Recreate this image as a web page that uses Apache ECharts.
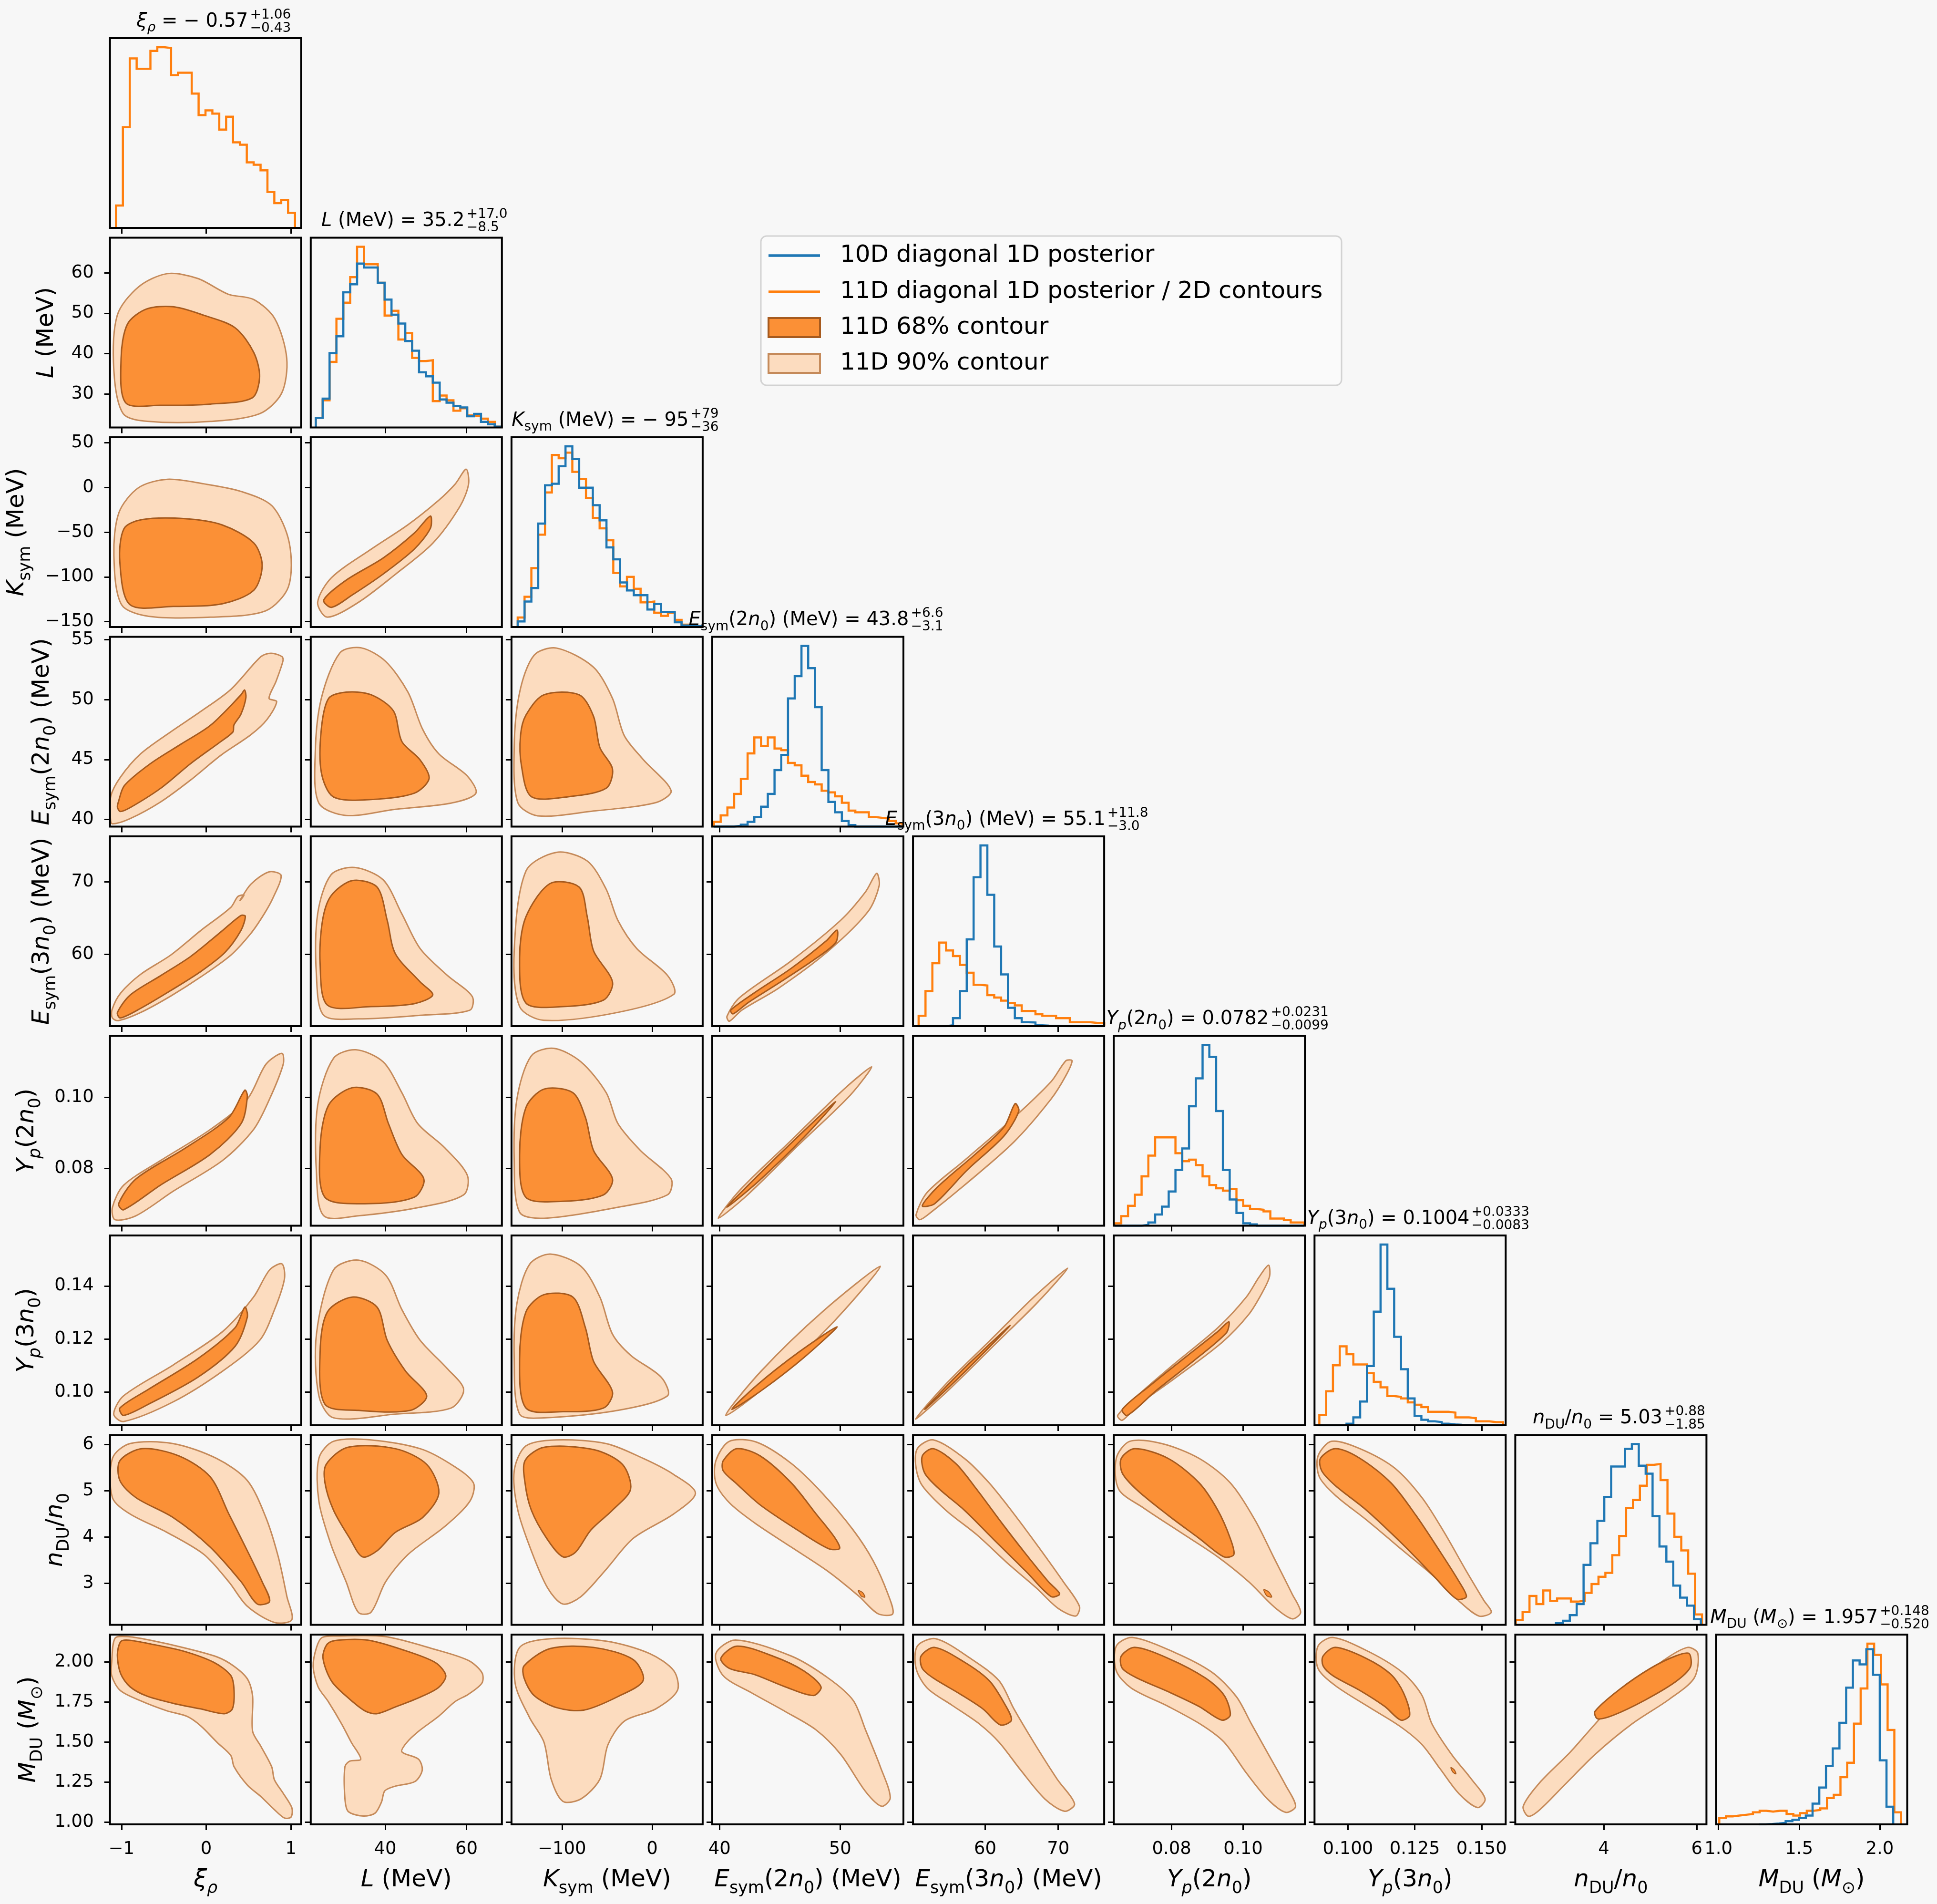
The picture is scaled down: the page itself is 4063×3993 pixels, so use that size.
<!DOCTYPE html>
<html><head><meta charset="utf-8">
<script src="https://cdn.jsdelivr.net/npm/echarts@6/dist/echarts.min.js"></script>
<style>html,body{margin:0;padding:0;background:#f7f7f7;}#c{width:4063px;height:3993px;}</style>
</head><body><div id="c"></div>
<script>
// ---------------- data ----------------
const axisMin = [-1.136, 21.7, -156, 39.4, 50.1, 0.0638, 0.0875, 2.10, 0.985];
const axisMax = [1.12, 68.7, 56, 55.24, 76.3, 0.1173, 0.159, 6.205, 2.17];
const xTickValues = [[-1,0,1],[40,60],[-100,0],[40,50],[60,70],[0.08,0.10],[0.100,0.125,0.150],[4,6],[1.0,1.5,2.0]];
const xTickLabels = [['−1','0','1'],['40','60'],['−100','0'],['40','50'],['60','70'],['0.08','0.10'],['0.100','0.125','0.150'],['4','6'],['1.0','1.5','2.0']];
const yTickValues = [[],[30,40,50,60],[-150,-100,-50,0,50],[40,45,50,55],[60,70],[0.08,0.10],[0.10,0.12,0.14],[3,4,5,6],[1.00,1.25,1.50,1.75,2.00]];
const yTickLabels = [[],['30','40','50','60'],['−150','−100','−50','0','50'],['40','45','50','55'],['60','70'],['0.08','0.10'],['0.10','0.12','0.14'],['3','4','5','6'],['1.00','1.25','1.50','1.75','2.00']];

// histograms (11D = orange, 10D = blue)
const hist11_xi = [140,630,1060,995,995,1107,1130,1125,955,970,970,840,705,735,715,615,695,535,520,410,395,360,225,155,175,95];
const range11_xi = [-1.065, 1.047];
const hist10_L = [60,180,465,570,845,895,1025,1000,1000,905,800,705,650,540,480,345,320,280,175,155,135,125,70,85,35,20,5];
const hist11_L = [60,170,410,680,780,940,1130,1020,1020,905,700,730,550,590,435,415,420,165,200,170,105,120,75,70,55,35,5];
const range_L = [22.94, 68.63];
const hist10_K = [35,160,245,650,890,900,1010,1135,1055,875,875,765,670,500,425,280,230,200,200,110,145,95,95,30,10,5,5];
const hist11_K = [60,190,370,580,845,1080,1060,1095,975,930,810,685,620,545,340,255,315,240,155,160,90,70,90,45,15,10,5];
const range_K = [-149.1, 55.3];
const hist10_E2 = [0,0,0,5,12,30,60,125,205,355,450,805,945,1135,995,750,355,155,90,35,10,0,0,0,0,0,0,0];
const hist11_E2 = [30,70,120,205,300,460,560,505,560,490,480,400,385,320,280,265,225,215,190,150,100,90,90,60,55,50,35,20];
const range_E2 = [39.54, 55.16];
const hist10_E3 = [0,0,0,0,5,50,220,545,935,1135,825,500,325,115,50,25,23,5,3,2,1,0,0,0,0,0,0];
const hist11_E3 = [65,220,395,525,475,440,385,335,260,255,195,180,160,145,130,95,95,75,65,65,50,50,25,25,25,20,20];
const range_E3 = [50.87, 76.3];
const hist10_Y2 = [0,0,0,0,5,20,70,120,215,350,485,750,925,1135,1060,720,350,165,80,15,8,0,0,0,0,0,0,0];
const hist11_Y2 = [15,60,125,195,310,440,555,555,555,455,405,415,380,310,255,235,220,230,160,125,105,100,90,45,45,35,20,20];
const range_Y2 = [0.064, 0.1171];
const hist10_Y3 = [0,0,0,0,10,50,150,375,720,1145,865,560,355,170,60,35,25,20,10,5,3,2,0,0,0,0,0];
const hist11_Y3 = [65,215,380,500,450,385,385,330,275,240,185,180,170,145,130,115,85,85,85,80,50,50,45,25,25,20,20];
const range_Y3 = [0.0893, 0.158];
const hist10_n = [10,25,60,130,375,510,650,800,990,990,1100,1130,995,945,680,490,395,245,170,120,35];
const range10_n = [2.974, 6.085];
const hist11_n = [30,80,180,130,215,150,165,165,145,150,200,255,300,325,435,555,730,780,870,1000,1005,905,695,550,465,320,65];
const range11_n = [2.109, 6.109];
const hist10_M = [0,2,5,10,20,28,40,55,130,230,365,475,635,855,1025,1000,1095,935,400,110];
const range10_M = [1.25, 2.0833];
const hist11_M = [40,50,55,60,65,75,85,80,85,85,65,55,70,85,90,100,165,185,295,385,630,850,1130,1060,875,590,75];
const range11_M = [1.005, 2.132];

// 2D contours (90% outer, 68% inner), [x, y] in data units; name = row_col
const c90_1_0 = [[-1.09,35.7],[-1.05,49.5],[-0.80,56.5],[-0.46,59.8],[-0.10,58.6],[0.26,54.7],[0.56,53.4],[0.81,48.6],[0.95,38.8],[0.89,30.2],[0.63,25.1],[0.05,23.2],[-0.68,23.2],[-0.98,25.1]];
const c68_1_0 = [[-1.005,38.8],[-0.93,47.3],[-0.71,51.0],[-0.39,51.6],[-0.03,49.5],[0.34,46.4],[0.56,40.3],[0.63,34.2],[0.54,29.0],[0.05,27.5],[-0.54,27.2],[-0.95,27.8]];
const c90_2_0 = [[-1.09,-76],[-1.03,-28],[-0.80,-0.4],[-0.46,9],[-0.03,4],[0.41,-4.5],[0.78,-21],[0.98,-62],[0.97,-111],[0.70,-138],[0.05,-145],[-0.68,-144],[-1.00,-131]];
const c68_2_0 = [[-1.02,-83],[-0.97,-46],[-0.76,-36],[-0.25,-35],[0.19,-42],[0.56,-62],[0.66,-87],[0.56,-115],[0.19,-130],[-0.39,-133],[-0.90,-131]];
const c90_3_0 = [[-1.127,41.92],[-1.013,43.52],[-0.775,45.47],[-0.421,47.30],[-0.065,49.01],[0.290,50.85],[0.646,53.59],[0.764,53.87],[0.894,53.59],[0.906,53.25],[0.824,51.53],[0.741,50.11],[0.831,49.82],[0.716,48.33],[0.527,47.07],[0.172,45.35],[-0.184,43.29],[-0.538,41.46],[-0.894,40.08],[-1.108,39.63],[-1.131,40.08]];
const c68_3_0 = [[-1.037,41.46],[-0.965,42.83],[-0.658,44.66],[-0.301,46.27],[0.053,47.87],[0.409,50.39],[0.452,50.80],[0.468,50.16],[0.409,48.78],[0.326,47.87],[0.315,47.30],[0.172,46.50],[-0.184,44.66],[-0.538,42.60],[-0.894,41.00],[-1.013,40.66],[-1.048,41.00]];
const c90_4_0 = [[-1.112,52.36],[-1.013,54.63],[-0.775,57.25],[-0.421,59.90],[-0.065,63.30],[0.290,66.50],[0.373,68.00],[0.445,68.20],[0.398,67.45],[0.527,69.70],[0.741,71.40],[0.883,70.90],[0.788,67.81],[0.682,65.56],[0.527,62.91],[0.290,59.90],[-0.065,56.89],[-0.421,54.24],[-0.775,51.98],[-1.037,50.86],[-1.108,51.23]];
const c68_4_0 = [[-1.048,51.98],[-0.894,54.43],[-0.538,57.07],[-0.184,59.72],[0.172,63.10],[0.409,65.37],[0.461,65.26],[0.409,63.30],[0.220,60.27],[-0.065,57.64],[-0.421,55.00],[-0.775,52.55],[-1.013,51.23]];
const c90_5_0 = [[-1.107,0.0690],[-0.975,0.0752],[-0.537,0.0822],[0.047,0.0909],[0.485,0.0995],[0.704,0.1093],[0.893,0.1124],[0.908,0.1093],[0.747,0.0995],[0.558,0.0909],[0.193,0.0822],[-0.391,0.0735],[-0.829,0.0666],[-1.078,0.0655]];
const c68_5_0 = [[-1.034,0.0700],[-0.829,0.0770],[-0.245,0.0857],[0.266,0.0943],[0.455,0.1020],[0.485,0.1002],[0.412,0.0926],[0.047,0.0839],[-0.537,0.0753],[-0.975,0.0683]];
const c90_6_0 = [[-1.092,0.0917],[-0.975,0.0986],[-0.391,0.1102],[0.193,0.1228],[0.558,0.1358],[0.747,0.1460],[0.893,0.1483],[0.923,0.1427],[0.806,0.1311],[0.631,0.1195],[0.193,0.1079],[-0.391,0.0963],[-0.975,0.0889]];
const c68_6_0 = [[-1.019,0.0940],[-0.683,0.1010],[-0.099,0.1126],[0.339,0.1242],[0.455,0.1320],[0.485,0.1283],[0.339,0.1172],[-0.099,0.1056],[-0.683,0.0954],[-0.975,0.0912]];
const c90_7_0 = [[-1.107,5.70],[-0.902,6.02],[-0.391,6.02],[0.120,5.70],[0.485,5.22],[0.704,4.42],[0.850,3.57],[0.952,2.71],[1.010,2.21],[0.806,2.15],[0.485,2.50],[0.266,3.03],[-0.026,3.62],[-0.464,4.10],[-0.902,4.50],[-1.107,4.85]];
const c68_7_0 = [[-1.019,5.65],[-0.756,5.91],[-0.318,5.75],[0.047,5.30],[0.266,4.50],[0.485,3.70],[0.660,3.03],[0.748,2.61],[0.602,2.55],[0.412,3.03],[0.047,3.78],[-0.391,4.42],[-0.829,4.85],[-1.019,5.22]];
const c90_8_0 = [[-1.116,1.996],[-1.077,2.147],[-0.938,2.158],[-0.661,2.135],[-0.265,2.088],[0.130,2.030],[0.328,1.972],[0.487,1.892],[0.547,1.786],[0.547,1.566],[0.644,1.473],[0.772,1.345],[0.804,1.264],[0.903,1.183],[1.010,1.089],[1.001,1.031],[0.922,1.025],[0.804,1.077],[0.644,1.159],[0.487,1.229],[0.328,1.345],[0.290,1.415],[0.130,1.496],[-0.067,1.601],[-0.225,1.659],[-0.464,1.694],[-0.780,1.758],[-1.017,1.822],[-1.116,1.914]];
const c68_8_0 = [[-1.049,2.042],[-1.010,2.126],[-0.919,2.135],[-0.661,2.112],[-0.265,2.066],[0.091,1.996],[0.290,1.914],[0.328,1.822],[0.308,1.706],[0.209,1.676],[-0.067,1.706],[-0.384,1.740],[-0.701,1.786],[-0.899,1.844],[-1.010,1.926]];
const c90_2_1 = [[23.4,-128.5],[26.8,-100.9],[36.5,-69.2],[45.6,-41.7],[53.2,-14.2],[57.2,3.7],[59.9,20.3],[60.5,3.7],[58.4,-21.1],[51.7,-62.4],[42.6,-96.8],[33.4,-128.5],[25.8,-145.0]];
const c68_2_1 = [[24.9,-125.7],[30.4,-103.7],[39.5,-78.9],[47.1,-51.3],[51.1,-32.1],[51.1,-45.8],[47.1,-69.2],[39.5,-96.8],[31.9,-120.2],[26.8,-134.0]];
const c90_3_1 = [[28.9,53.91],[34.1,54.32],[40.1,53.19],[45.6,50.62],[49.2,47.53],[53.2,45.47],[60.2,43.62],[62.3,42.18],[56.2,41.36],[42.5,40.84],[30.4,40.33],[23.7,41.36],[22.8,45.47],[24.3,50.10]];
const c68_3_1 = [[26.1,50.10],[30.4,50.62],[36.5,50.41],[42.0,49.07],[44.1,46.50],[48.6,44.96],[50.8,43.41],[47.1,42.18],[36.5,41.66],[27.3,41.87],[24.3,43.93],[24.3,47.53]];
const c90_4_1 = [[26.7,71.0],[32.5,72.0],[39.5,70.3],[44.1,65.6],[48.6,60.8],[55.3,57.1],[61.4,54.2],[60.8,52.3],[48.6,51.6],[33.4,51.1],[24.9,51.6],[23.1,57.1],[23.4,65.6]];
const c68_4_1 = [[26.7,68.1],[31.9,70.2],[38.0,69.3],[40.5,64.7],[42.5,60.1],[48.6,56.2],[51.7,54.4],[47.1,53.2],[36.5,52.8],[25.8,53.0],[24.0,58.8],[24.6,64.7]];
const c90_5_1 = [[27.3,0.1110],[32.8,0.1134],[39.5,0.1100],[44.1,0.1013],[48.0,0.0926],[54.7,0.0857],[60.2,0.0780],[59.3,0.0725],[48.6,0.0690],[33.4,0.0666],[24.9,0.0666],[23.1,0.0787],[23.4,0.0978]];
const c68_5_1 = [[26.1,0.0978],[31.9,0.1027],[38.0,0.1009],[40.8,0.0926],[44.1,0.0839],[49.5,0.0770],[47.1,0.0718],[35.0,0.0700],[25.2,0.0718],[24.0,0.0857]];
const c90_6_1 = [[27.3,0.1460],[33.4,0.1497],[40.1,0.1441],[44.1,0.1311],[48.6,0.1195],[55.3,0.1088],[59.3,0.1010],[56.2,0.0940],[42.5,0.0917],[27.3,0.0903],[23.7,0.0986],[23.1,0.1218]];
const c68_6_1 = [[25.8,0.1302],[31.9,0.1358],[38.0,0.1320],[40.5,0.1195],[45.0,0.1079],[50.2,0.0986],[46.2,0.0931],[33.4,0.0931],[25.2,0.0954],[24.0,0.1149]];
const c90_7_1 = [[23.7,5.70],[27.3,6.07],[36.5,6.10],[48.6,5.91],[56.2,5.57],[61.7,5.17],[60.8,4.77],[54.7,4.23],[45.6,3.62],[40.1,3.03],[36.5,2.37],[33.4,2.37],[30.4,3.03],[26.7,3.83],[23.7,4.77]];
const c68_7_1 = [[25.5,5.57],[30.8,5.94],[42.5,5.91],[50.2,5.57],[53.2,4.95],[49.2,4.42],[42.5,4.10],[38.0,3.70],[34.4,3.57],[31.3,3.97],[27.3,4.58],[25.2,5.17]];
const c90_8_1 = [[22.3,1.972],[23.1,2.088],[24.5,2.152],[28.4,2.161],[39.9,2.158],[52.3,2.077],[60.5,2.008],[63.8,1.932],[63.8,1.868],[60.5,1.798],[57.2,1.752],[53.1,1.659],[48.2,1.566],[45.3,1.496],[44.1,1.438],[48.2,1.392],[49.1,1.322],[47.3,1.252],[42.4,1.223],[39.9,1.194],[39.1,1.125],[37.5,1.055],[34.6,1.037],[30.9,1.066],[30.1,1.147],[30.1,1.345],[31.3,1.380],[34.0,1.392],[31.7,1.496],[29.3,1.612],[26.0,1.752],[23.5,1.844]];
const c68_8_1 = [[24.7,2.025],[25.8,2.112],[28.4,2.135],[35.8,2.135],[44.1,2.077],[52.3,1.996],[54.9,1.914],[53.1,1.839],[48.2,1.775],[42.4,1.717],[37.9,1.676],[35.0,1.694],[30.9,1.775],[26.8,1.880]];
const c90_3_2 = [[-131,53.7],[-106,54.3],[-65,52.7],[-44,50.1],[-31,47.0],[-10,45.0],[21,42.4],[4,41.4],[-65,40.7],[-127,40.3],[-149,41.4],[-153,46.0],[-147,50.6]];
const c68_3_2 = [[-140,48.7],[-120,50.4],[-81,50.4],[-65,48.6],[-58,46.0],[-44,44.2],[-51,42.6],[-92,41.9],[-134,41.9],[-145,44.5],[-146,47.0]];
const c90_4_2 = [[-140,71.5],[-106,74.1],[-72,72.9],[-51,69.0],[-38,64.7],[-17,60.8],[17,57.1],[24,54.5],[-38,52.0],[-120,50.9],[-147,52.8],[-153,60.5]];
const c68_4_2 = [[-140,65.2],[-113,69.8],[-81,69.3],[-72,65.2],[-65,60.5],[-44,56.2],[-54,53.7],[-99,52.8],[-140,53.3],[-147,59.6]];
const c90_5_2 = [[-134,0.1117],[-109,0.1138],[-79,0.1100],[-51,0.1013],[-38,0.0926],[-13,0.0850],[21,0.0770],[17,0.0725],[-38,0.0690],[-120,0.0659],[-147,0.0676],[-153,0.0822],[-150,0.0995]];
const c68_5_2 = [[-140,0.0971],[-120,0.1023],[-88,0.1013],[-74,0.0943],[-65,0.0850],[-44,0.0770],[-54,0.0725],[-99,0.0707],[-140,0.0718],[-147,0.0839]];
const c90_6_2 = [[-136,0.1481],[-113,0.1520],[-79,0.1474],[-58,0.1358],[-44,0.1218],[-24,0.1139],[10,0.1056],[17,0.0986],[-38,0.0931],[-120,0.0903],[-147,0.0917],[-153,0.1126],[-150,0.1334]];
const c68_6_2 = [[-140,0.1302],[-120,0.1367],[-88,0.1358],[-74,0.1242],[-65,0.1116],[-44,0.1000],[-54,0.0940],[-99,0.0926],[-140,0.0940],[-147,0.1126]];
const c90_7_2 = [[-140,5.97],[-106,6.10],[-51,6.02],[-10,5.70],[24,5.35],[48,4.95],[24,4.50],[-21,3.97],[-51,3.30],[-79,2.71],[-99,2.55],[-116,2.90],[-134,3.70],[-149,4.58],[-153,5.43]];
const c68_7_2 = [[-141,5.65],[-120,5.94],[-65,5.89],[-33,5.57],[-24,5.03],[-44,4.58],[-68,4.15],[-85,3.67],[-99,3.57],[-117,3.97],[-134,4.58],[-141,5.17]];
const c90_8_2 = [[-147,2.090],[-113,2.144],[-51,2.129],[-3,2.052],[24,1.944],[28,1.821],[4,1.706],[-31,1.629],[-49,1.483],[-58,1.267],[-79,1.144],[-99,1.129],[-112,1.267],[-120,1.498],[-136,1.652],[-152,1.867]];
const c68_8_2 = [[-142,1.975],[-113,2.083],[-65,2.090],[-21,2.014],[-10,1.883],[-38,1.783],[-76,1.698],[-106,1.714],[-131,1.790],[-142,1.898]];
const c90_4_3 = [[40.62,51.46],[41.64,54.01],[45.95,59.12],[50.05,64.73],[52.10,68.64],[53.02,71.19],[53.23,69.49],[52.31,65.92],[49.02,60.48],[44.92,55.37],[41.85,52.31],[40.82,50.78]];
const c68_4_3 = [[40.93,52.31],[42.88,54.69],[45.95,58.09],[48.82,61.84],[49.74,63.37],[49.64,61.67],[48.00,59.46],[44.92,56.05],[42.36,53.33],[41.13,51.80]];
const c90_5_3 = [[39.90,0.0659],[41.71,0.0739],[46.01,0.0881],[50.32,0.1023],[52.61,0.1086],[50.81,0.1005],[46.50,0.0864],[42.20,0.0721]];
const c68_5_3 = [[40.62,0.0690],[43.05,0.0775],[46.74,0.0897],[49.64,0.0988],[47.01,0.0888],[43.32,0.0766]];
const c90_6_3 = [[40.52,0.0912],[43.47,0.1080],[48.59,0.1305],[53.33,0.1474],[49.46,0.1265],[44.33,0.1040]];
const c68_6_3 = [[41.03,0.0935],[43.17,0.1029],[46.55,0.1150],[49.74,0.1246],[46.99,0.1130],[43.60,0.1010]];
const c90_7_3 = [[39.70,5.65],[40.82,6.07],[43.08,6.05],[45.95,5.59],[48.51,4.95],[51.08,4.15],[52.72,3.49],[53.95,2.77],[54.36,2.34],[53.13,2.34],[51.59,2.71],[49.02,3.25],[45.95,3.78],[42.88,4.31],[40.82,4.74],[39.70,5.17]];
const c68_7_3 = [[40.31,5.65],[41.44,5.91],[43.39,5.75],[45.95,5.17],[48.00,4.50],[49.54,3.99],[49.95,3.75],[49.02,3.75],[46.46,4.15],[43.39,4.69],[41.34,5.17],[40.31,5.43]];
const c90_8_3 = [[39.70,2.052],[41.34,2.136],[45.95,2.036],[49.02,1.898],[51.08,1.759],[52.10,1.575],[53.33,1.344],[54.15,1.152],[53.43,1.098],[52.10,1.190],[50.05,1.421],[48.00,1.575],[45.44,1.690],[42.67,1.806],[40.31,1.913]];
const c68_8_3 = [[40.11,2.021],[41.44,2.098],[44.41,2.036],[46.98,1.944],[48.41,1.844],[47.79,1.790],[45.44,1.844],[42.88,1.921],[40.82,1.959]];
const c90_5_4 = [[50.52,0.0669],[52.05,0.0732],[57.14,0.0822],[63.93,0.0943],[69.02,0.1044],[71.05,0.1103],[71.90,0.1103],[71.05,0.1061],[69.02,0.0995],[63.93,0.0874],[57.14,0.0752],[52.39,0.0673],[51.03,0.0655]];
const c68_5_4 = [[51.37,0.0694],[53.41,0.0746],[58.83,0.0843],[62.57,0.0916],[64.09,0.0982],[64.60,0.0961],[62.57,0.0891],[57.48,0.0794],[53.07,0.0700]];
const c90_6_4 = [[50.44,0.0898],[54.46,0.1026],[60.56,0.1192],[66.67,0.1358],[71.30,0.1467],[67.28,0.1341],[61.17,0.1175],[55.07,0.1010]];
const c68_6_4 = [[51.71,0.0935],[56.66,0.1077],[63.41,0.1251],[56.93,0.1069]];
const c90_7_4 = [[50.69,5.91],[52.90,6.10],[57.14,5.70],[60.53,5.17],[63.93,4.50],[67.32,3.78],[70.71,3.03],[72.91,2.50],[72.40,2.29],[70.03,2.45],[66.98,2.90],[63.08,3.43],[58.83,4.05],[54.59,4.58],[51.37,5.11],[50.52,5.49]];
const c68_7_4 = [[51.37,5.75],[52.90,5.91],[55.95,5.59],[58.83,5.03],[62.23,4.31],[65.62,3.62],[68.67,3.03],[70.20,2.77],[69.02,2.71],[65.62,3.25],[61.38,3.91],[57.14,4.58],[53.75,5.03],[51.71,5.38]];
const c90_8_4 = [[50.69,2.098],[53.24,2.144],[57.99,2.021],[61.89,1.882],[63.93,1.706],[66.64,1.498],[69.86,1.267],[72.24,1.113],[70.88,1.067],[68.16,1.144],[64.77,1.329],[61.89,1.498],[59.17,1.613],[55.44,1.729],[52.05,1.836],[50.52,1.959]];
const c68_8_4 = [[51.20,2.036],[53.07,2.090],[57.14,1.998],[60.53,1.883],[62.57,1.744],[63.59,1.636],[62.06,1.606],[59.68,1.706],[56.29,1.806],[52.90,1.898],[51.37,1.959]];
const c90_6_5 = [[0.0649,0.0912],[0.0704,0.0986],[0.0808,0.1107],[0.0929,0.1242],[0.1009,0.1358],[0.1044,0.1432],[0.1071,0.1478],[0.1074,0.1436],[0.1054,0.1376],[0.1016,0.1293],[0.0940,0.1186],[0.0808,0.1051],[0.0704,0.0949],[0.0662,0.0894]];
const c68_6_5 = [[0.0662,0.0935],[0.0739,0.1024],[0.0842,0.1135],[0.0929,0.1228],[0.0960,0.1265],[0.0953,0.1223],[0.0860,0.1116],[0.0756,0.1005],[0.0676,0.0912]];
const c90_7_5 = [[0.0645,5.70],[0.0683,6.07],[0.0773,6.02],[0.0877,5.70],[0.0964,5.17],[0.1033,4.37],[0.1085,3.57],[0.1137,2.77],[0.1161,2.37],[0.1137,2.23],[0.1085,2.50],[0.1016,3.03],[0.0929,3.57],[0.0825,4.10],[0.0721,4.63],[0.0652,5.03]];
const c68_7_5 = [[0.0659,5.70],[0.0697,5.91],[0.0790,5.70],[0.0877,5.17],[0.0929,4.58],[0.0964,3.97],[0.0974,3.62],[0.0946,3.57],[0.0877,3.97],[0.0790,4.47],[0.0704,5.01],[0.0662,5.38]];
const c90_8_5 = [[0.0645,2.098],[0.0690,2.152],[0.0808,2.059],[0.0912,1.936],[0.0981,1.783],[0.1023,1.613],[0.1071,1.421],[0.1119,1.229],[0.1147,1.098],[0.1119,1.060],[0.1068,1.144],[0.1009,1.306],[0.0947,1.498],[0.0884,1.606],[0.0791,1.721],[0.0687,1.836],[0.0645,1.944]];
const c68_8_5 = [[0.0659,2.036],[0.0697,2.090],[0.0791,2.021],[0.0895,1.898],[0.0947,1.790],[0.0964,1.667],[0.0940,1.636],[0.0877,1.721],[0.0791,1.813],[0.0704,1.898],[0.0662,1.959]];
const c90_7_6 = [[0.0888,5.75],[0.0939,6.07],[0.1045,5.91],[0.1175,5.49],[0.1277,4.85],[0.1360,4.10],[0.1439,3.30],[0.1508,2.63],[0.1536,2.37],[0.1490,2.29],[0.1416,2.61],[0.1323,3.14],[0.1207,3.70],[0.1069,4.37],[0.0953,4.90],[0.0893,5.30]];
const c68_7_6 = [[0.0897,5.70],[0.0953,5.91],[0.1045,5.70],[0.1161,5.17],[0.1254,4.47],[0.1346,3.67],[0.1416,3.03],[0.1443,2.71],[0.1406,2.66],[0.1323,3.14],[0.1207,3.83],[0.1069,4.58],[0.0953,5.11],[0.0902,5.43]];
const c90_8_6 = [[0.0888,2.098],[0.0944,2.152],[0.1083,2.059],[0.1208,1.928],[0.1277,1.790],[0.1314,1.613],[0.1388,1.421],[0.1462,1.267],[0.1513,1.144],[0.1485,1.090],[0.1416,1.175],[0.1346,1.329],[0.1277,1.483],[0.1194,1.598],[0.1083,1.713],[0.0953,1.851],[0.0888,1.959]];
const c68_8_6 = [[0.0907,2.036],[0.0953,2.090],[0.1069,2.021],[0.1161,1.921],[0.1208,1.806],[0.1231,1.667],[0.1198,1.636],[0.1138,1.721],[0.1045,1.821],[0.0944,1.913],[0.0907,1.975]];
const c90_8_7 = [[2.27,1.098],[2.62,1.244],[3.28,1.436],[3.94,1.652],[4.61,1.844],[5.27,2.006],[5.80,2.090],[6.02,2.052],[5.94,1.898],[5.41,1.767],[4.61,1.613],[3.81,1.421],[3.15,1.229],[2.62,1.075],[2.38,1.036]];
const c68_8_7 = [[3.81,1.690],[4.34,1.828],[5.00,1.959],[5.54,2.036],[5.83,2.052],[5.86,1.967],[5.54,1.875],[4.88,1.760],[4.21,1.667],[3.87,1.644]];
// small detached 68% islands
const island_7_3 = [[51.50,2.84],[51.85,2.80],[52.05,2.70],[51.75,2.72]];
const island_7_5 = [[0.1058,2.86],[0.1072,2.81],[0.1080,2.70],[0.1066,2.73]];
const island_8_6 = [[0.1385,1.340],[0.1398,1.325],[0.1404,1.300],[0.1392,1.312]];

// texts
const titleMain = [
  [['ξ','i'],['ρ','si'],[' = − 0.57','r']],
  [['L','i'],[' (MeV) = 35.2','r']],
  [['K','i'],['sym','s'],[' (MeV) = − 95','r']],
  [['E','i'],['sym','s'],['(2','r'],['n','i'],['0','s'],[') (MeV) = 43.8','r']],
  [['E','i'],['sym','s'],['(3','r'],['n','i'],['0','s'],[') (MeV) = 55.1','r']],
  [['Y','i'],['p','si'],['(2','r'],['n','i'],['0','s'],[') = 0.0782','r']],
  [['Y','i'],['p','si'],['(3','r'],['n','i'],['0','s'],[') = 0.1004','r']],
  [['n','i'],['DU','s'],['/','r'],['n','i'],['0','s'],[' = 5.03','r']],
  [['M','i'],['DU','s'],[' (','r'],['M','i'],['⊙','s'],[') = 1.957','r']]
];
const titleSup = ['+1.06','+17.0','+79','+6.6','+11.8','+0.0231','+0.0333','+0.88','+0.148'];
const titleSub = ['−0.43','−8.5','−36','−3.1','−3.0','−0.0099','−0.0083','−1.85','−0.520'];
const axisNames = [
  [['ξ','i'],['ρ','si']],
  [['L','i'],[' (MeV)','r']],
  [['K','i'],['sym','s'],[' (MeV)','r']],
  [['E','i'],['sym','s'],['(2','r'],['n','i'],['0','s'],[') (MeV)','r']],
  [['E','i'],['sym','s'],['(3','r'],['n','i'],['0','s'],[') (MeV)','r']],
  [['Y','i'],['p','si'],['(2','r'],['n','i'],['0','s'],[')','r']],
  [['Y','i'],['p','si'],['(3','r'],['n','i'],['0','s'],[')','r']],
  [['n','i'],['DU','s'],['/','r'],['n','i'],['0','s']],
  [['M','i'],['DU','s'],[' (','r'],['M','i'],['⊙','s'],[')','r']]
];
const legendLabels = ['10D diagonal 1D posterior','11D diagonal 1D posterior / 2D contours','11D 68% contour','11D 90% contour'];

// ---------------- layout / style ----------------
const LEFT0 = 230.7, STEPX = 421.1, PW = 401, TOP0 = 80, STEPY = 418.5, PH = 398;
const FONT = 'DejaVu Sans';
const ORANGE = '#ff7f0e', BLUE = '#1f77b4';
const FILL68 = '#fb9036', EDGE68 = '#a65a1e', FILL90 = '#fcdcbf', EDGE90 = '#c58a5a';
const yNameX = [0, 98, 36, 89, 89, 57, 57, 117, 61];

const mctx = document.createElement('canvas').getContext('2d');
function isSub(s) { return s === 's' || s === 'si'; }
function segsWidth(segs, F) {
  let w = 0;
  for (const [t, s] of segs) {
    const size = isSub(s) ? Math.round(F * 0.7) : F;
    const it = (s === 'i' || s === 'si');
    mctx.font = (it ? 'italic ' : '') + size + 'px "' + FONT + '"';
    w += mctx.measureText(t).width;
  }
  return w;
}
function richStyles(F) {
  const S = Math.round(F * 0.7), pad = Math.round(F * 0.71);
  return {
    r: { fontFamily: FONT, fontSize: F, fill: '#000' },
    i: { fontFamily: FONT, fontSize: F, fontStyle: 'italic', fill: '#000' },
    s: { fontFamily: FONT, fontSize: S, fill: '#000', padding: [pad, 0, 0, 0] },
    si: { fontFamily: FONT, fontSize: S, fontStyle: 'italic', fill: '#000', padding: [pad, 0, 0, 0] }
  };
}
function richStr(segs) { return segs.map(([t, s]) => '{' + s + '|' + t + '}').join(''); }
function fmt(vals, labs) {
  return function (v) {
    for (let i = 0; i < vals.length; i++) if (Math.abs(vals[i] - v) < 1e-7) return labs[i];
    return '';
  };
}
function stepPoints(range, counts) {
  const n = counts.length, w = (range[1] - range[0]) / n;
  const pts = [[range[0], 0]];
  for (let i = 0; i < n; i++) { pts.push([range[0] + i * w, counts[i]]); pts.push([range[0] + (i + 1) * w, counts[i]]); }
  pts.push([range[1], 0]);
  return pts;
}

const diagHists = [
  [[range11_xi, hist11_xi, ORANGE]],
  [[range_L, hist11_L, ORANGE], [range_L, hist10_L, BLUE]],
  [[range_K, hist11_K, ORANGE], [range_K, hist10_K, BLUE]],
  [[range_E2, hist11_E2, ORANGE], [range_E2, hist10_E2, BLUE]],
  [[range_E3, hist11_E3, ORANGE], [range_E3, hist10_E3, BLUE]],
  [[range_Y2, hist11_Y2, ORANGE], [range_Y2, hist10_Y2, BLUE]],
  [[range_Y3, hist11_Y3, ORANGE], [range_Y3, hist10_Y3, BLUE]],
  [[range11_n, hist11_n, ORANGE], [range10_n, hist10_n, BLUE]],
  [[range11_M, hist11_M, ORANGE], [range10_M, hist10_M, BLUE]]
];
const contourPanels = [
  [1,0,c90_1_0,c68_1_0],[2,0,c90_2_0,c68_2_0],[3,0,c90_3_0,c68_3_0],[4,0,c90_4_0,c68_4_0],
  [5,0,c90_5_0,c68_5_0],[6,0,c90_6_0,c68_6_0],[7,0,c90_7_0,c68_7_0],[8,0,c90_8_0,c68_8_0],
  [2,1,c90_2_1,c68_2_1],[3,1,c90_3_1,c68_3_1],[4,1,c90_4_1,c68_4_1],[5,1,c90_5_1,c68_5_1],
  [6,1,c90_6_1,c68_6_1],[7,1,c90_7_1,c68_7_1],[8,1,c90_8_1,c68_8_1],
  [3,2,c90_3_2,c68_3_2],[4,2,c90_4_2,c68_4_2],[5,2,c90_5_2,c68_5_2],[6,2,c90_6_2,c68_6_2],
  [7,2,c90_7_2,c68_7_2],[8,2,c90_8_2,c68_8_2],
  [4,3,c90_4_3,c68_4_3],[5,3,c90_5_3,c68_5_3],[6,3,c90_6_3,c68_6_3],[7,3,c90_7_3,c68_7_3],[8,3,c90_8_3,c68_8_3],
  [5,4,c90_5_4,c68_5_4],[6,4,c90_6_4,c68_6_4],[7,4,c90_7_4,c68_7_4],[8,4,c90_8_4,c68_8_4],
  [6,5,c90_6_5,c68_6_5],[7,5,c90_7_5,c68_7_5],[8,5,c90_8_5,c68_8_5],
  [7,6,c90_7_6,c68_7_6],[8,6,c90_8_6,c68_8_6],
  [8,7,c90_8_7,c68_8_7]
];
const islandPanels = [[7,3,island_7_3],[7,5,island_7_5],[8,6,island_8_6]];

// ---------------- build ----------------
const grids = [], xAxes = [], yAxes = [], series = [], graphics = [];
const gIndex = {};
const tickStyle = { color: '#000', width: 3 };
for (let r = 0; r < 9; r++) {
  for (let c = 0; c <= r; c++) {
    const gi = grids.length; gIndex[r + '_' + c] = gi;
    const left = LEFT0 + c * STEPX, top = TOP0 + r * STEPY;
    grids.push({ left: left, top: top, width: PW, height: PH, containLabel: false, outerBoundsMode: 'none', show: false });
    xAxes.push({
      type: 'value', gridIndex: gi, min: axisMin[c], max: axisMax[c],
      axisLine: { show: false, onZero: false }, splitLine: { show: false },
      axisTick: { show: true, customValues: xTickValues[c], length: 12, inside: false, lineStyle: tickStyle },
      axisLabel: { show: r === 8, customValues: xTickValues[c], formatter: fmt(xTickValues[c], xTickLabels[c]),
        fontSize: 37, fontFamily: FONT, color: '#000', margin: 32, lineHeight: 40 }
    });
    if (r === c) {
      let mx = 0;
      diagHists[c].forEach(h => { mx = Math.max(mx, Math.max.apply(null, h[1])); });
      yAxes.push({ type: 'value', gridIndex: gi, min: 0, max: mx * 1.05,
        axisLine: { show: false, onZero: false }, splitLine: { show: false }, axisTick: { show: false }, axisLabel: { show: false } });
      diagHists[c].forEach(h => {
        series.push({ type: 'line', xAxisIndex: gi, yAxisIndex: gi, data: stepPoints(h[0], h[1]),
          symbol: 'none', showSymbol: false, silent: true, animation: false, clip: true, z: 5,
          lineStyle: { color: h[2], width: 4.5, join: 'miter' }, itemStyle: { color: h[2] } });
      });
    } else {
      yAxes.push({
        type: 'value', gridIndex: gi, min: axisMin[r], max: axisMax[r],
        axisLine: { show: false, onZero: false }, splitLine: { show: false },
        axisTick: { show: true, customValues: yTickValues[r], length: 12, inside: false, lineStyle: tickStyle },
        axisLabel: { show: c === 0, customValues: yTickValues[r], formatter: fmt(yTickValues[r], yTickLabels[r]),
          fontSize: 37, fontFamily: FONT, color: '#000', margin: 34 }
      });
    }
    graphics.push({ type: 'rect', silent: true, z: 100,
      shape: { x: left, y: top, width: PW, height: PH },
      style: { fill: 'none', stroke: '#000', lineWidth: 4 } });
  }
}
function polySeries(gi, pts, fill, stroke, z, lw) {
  return {
    type: 'custom', coordinateSystem: 'cartesian2d', xAxisIndex: gi, yAxisIndex: gi, z: z,
    silent: true, animation: false, data: pts,
    renderItem: function (params, api) {
      if (params.dataIndex !== 0) return null;
      const P = pts.map(p => api.coord(p));
      return { type: 'polygon', shape: { points: P, smooth: 0.3 }, style: { fill: fill, stroke: stroke, lineWidth: lw } };
    }
  };
}
contourPanels.forEach(([r, c, c90, c68]) => {
  const gi = gIndex[r + '_' + c];
  series.push(polySeries(gi, c90, FILL90, EDGE90, 2, 3));
  series.push(polySeries(gi, c68, FILL68, EDGE68, 3, 3));
});
islandPanels.forEach(([r, c, pts]) => {
  series.push(polySeries(gIndex[r + '_' + c], pts, FILL68, EDGE68, 3, 2));
});

// titles
for (let k = 0; k < 9; k++) {
  const F = 40, SF = 28;
  const left = LEFT0 + k * STEPX, top = TOP0 + k * STEPY;
  const mainW = segsWidth(titleMain[k], F);
  mctx.font = SF + 'px "' + FONT + '"';
  const sw = Math.max(mctx.measureText(titleSup[k]).width, mctx.measureText(titleSub[k]).width);
  const W = mainW + 4 + sw;
  const x0 = left + PW / 2 - W / 2 + 17;
  const B = top - 21;
  graphics.push({ type: 'text', silent: true, z: 100, x: x0, y: B - 0.346 * F,
    style: { text: richStr(titleMain[k]), rich: richStyles(F), fontFamily: FONT, fontSize: F, fill: '#000', align: 'left', verticalAlign: 'middle' } });
  graphics.push({ type: 'text', silent: true, z: 100, x: x0 + mainW + 4, y: B - 18 - 0.346 * SF,
    style: { text: titleSup[k], fontFamily: FONT, fontSize: SF, fill: '#000', align: 'left', verticalAlign: 'middle' } });
  graphics.push({ type: 'text', silent: true, z: 100, x: x0 + mainW + 4, y: B + 10 - 0.346 * SF,
    style: { text: titleSub[k], fontFamily: FONT, fontSize: SF, fill: '#000', align: 'left', verticalAlign: 'middle' } });
}
// axis names
const bottomY = TOP0 + 8 * STEPY + PH + 117;
for (let k = 0; k < 9; k++) {
  graphics.push({ type: 'text', silent: true, z: 100, x: LEFT0 + k * STEPX + PW / 2, y: bottomY,
    style: { text: richStr(axisNames[k]), rich: richStyles(50), fontFamily: FONT, fontSize: 50, fill: '#000', align: 'center', verticalAlign: 'middle' } });
}
for (let r = 1; r < 9; r++) {
  graphics.push({ type: 'text', silent: true, z: 100, x: yNameX[r], y: TOP0 + r * STEPY + PH / 2, rotation: Math.PI / 2,
    style: { text: richStr(axisNames[r]), rich: richStyles(50), fontFamily: FONT, fontSize: 50, fill: '#000', align: 'center', verticalAlign: 'middle' } });
}
// legend
graphics.push({ type: 'rect', silent: true, z: 90, shape: { x: 1596, y: 495, width: 1218, height: 313, r: 12 },
  style: { fill: '#fafafa', stroke: '#d2d2d2', lineWidth: 3 } });
const legY = [536, 612, 687, 762];
graphics.push({ type: 'line', silent: true, z: 91, shape: { x1: 1612, y1: legY[0], x2: 1720, y2: legY[0] }, style: { stroke: BLUE, lineWidth: 5.5 } });
graphics.push({ type: 'line', silent: true, z: 91, shape: { x1: 1612, y1: legY[1], x2: 1720, y2: legY[1] }, style: { stroke: ORANGE, lineWidth: 5.5 } });
graphics.push({ type: 'rect', silent: true, z: 91, shape: { x: 1612, y: legY[2] - 20, width: 108, height: 40 }, style: { fill: FILL68, stroke: EDGE68, lineWidth: 4 } });
graphics.push({ type: 'rect', silent: true, z: 91, shape: { x: 1612, y: legY[3] - 20, width: 108, height: 40 }, style: { fill: FILL90, stroke: EDGE90, lineWidth: 4 } });
for (let i = 0; i < 4; i++) {
  graphics.push({ type: 'text', silent: true, z: 92, x: 1762, y: legY[i],
    style: { text: legendLabels[i], fontFamily: FONT, fontSize: 50, fill: '#000', align: 'left', verticalAlign: 'middle' } });
}

const chart = echarts.init(document.getElementById('c'), null, { renderer: 'canvas', width: 4063, height: 3993 });
chart.setOption({
  backgroundColor: '#f7f7f7',
  animation: false,
  grid: grids, xAxis: xAxes, yAxis: yAxes, series: series, graphic: graphics
});
</script></body></html>
